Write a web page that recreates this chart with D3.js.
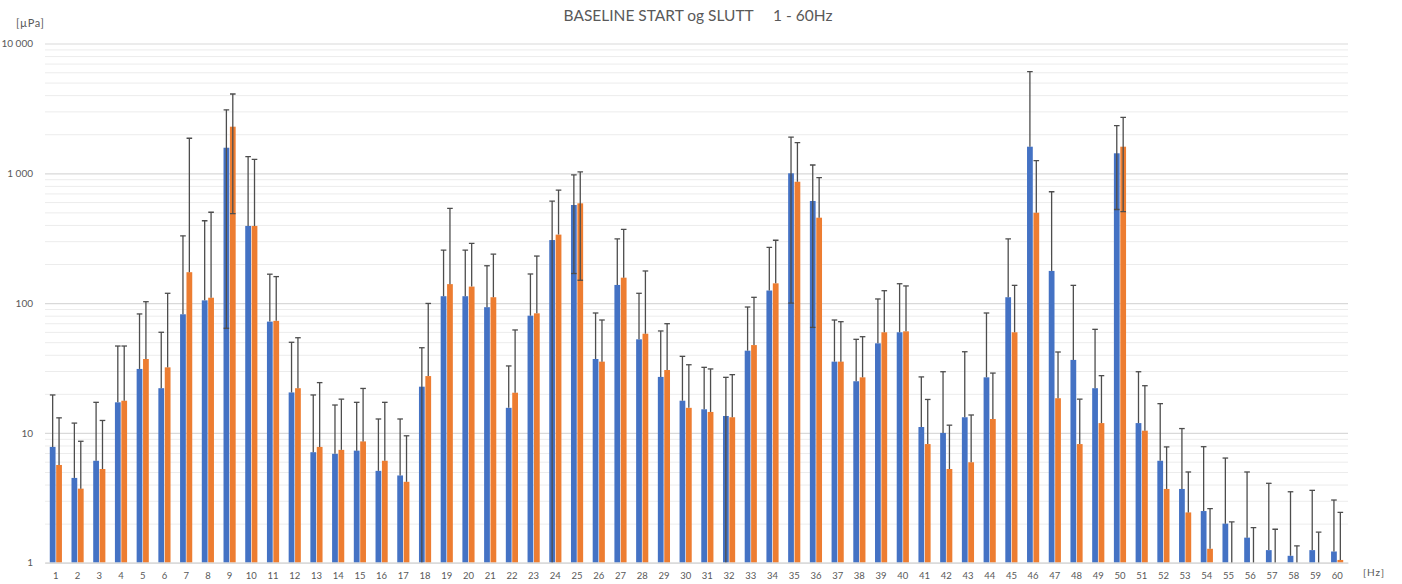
<!DOCTYPE html>
<html>
<head>
<meta charset="utf-8">
<script src="https://cdn.jsdelivr.net/npm/d3@7"></script>
<style>
  body { margin: 0; background: #fff; }
  text { font-family: Lato, "Open Sans", sans-serif; fill: #595959; }
</style>
</head>
<body>
<svg id="chart"></svg>
<script>
var width = 1402;
var height = 584;

// categories, Hz
var freqs = d3.range(1, 61);

// series: START (blue) and SLUTT (orange), mean and error (+/-)
var startMean = [7.8, 4.5, 6.1, 17.2, 31.1, 22.1, 82, 105, 1574, 393,
                 72, 20.5, 7.1, 6.9, 7.3, 5.1, 4.7, 22.7, 113, 113,
                 93, 15.6, 80, 306, 570, 37.1, 138, 52.6, 27, 17.7,
                 15.2, 13.5, 43, 125, 1000, 612, 35.4, 25, 49, 59.6,
                 11.1, 10, 13.2, 26.8, 111, 1603, 177, 36.5, 22.1, 1426,
                 11.9, 6.1, 3.7, 2.5, 2.0, 1.56, 1.25, 1.13, 1.25, 1.22];
var startErr = [11.8, 7.4, 11.1, 29.5, 51.4, 37.5, 248, 326, 1510, 950,
                95, 29.4, 12.5, 9.5, 9.9, 7.7, 8.1, 22.6, 143, 143,
                101, 17.2, 87.6, 305.5, 401, 46.8, 174, 66.4, 34, 21.2,
                16.8, 13.3, 50.3, 143.5, 900, 547, 38.7, 27.6, 58.6, 81.4,
                15.9, 19.6, 29, 57.1, 201, 4464, 544, 100.5, 40.7, 900,
                17.7, 10.7, 7.1, 5.33, 4.4, 3.44, 2.84, 2.39, 2.36, 1.82];
var sluttMean = [5.66, 3.72, 5.27, 17.7, 37.1, 32, 173, 110, 2286, 393,
                 73, 22.1, 7.8, 7.4, 8.6, 6.1, 4.2, 27.4, 140, 134,
                 111, 20.4, 83.4, 337, 587, 35.4, 157, 58.1, 30.5, 15.6,
                 14.5, 13.2, 47.5, 142, 861, 455, 35.4, 26.8, 59.6, 60.6,
                 8.2, 5.27, 5.94, 12.8, 59.6, 497, 18.5, 8.2, 11.9, 1603,
                 10.4, 3.7, 2.44, 1.28, 0.9, 0.8, 0.8, 0.7, 0.8, 1.05];
var sluttErr = [7.4, 4.9, 7.2, 29, 65.4, 87, 1689, 391, 1797, 889,
                87, 32, 16.6, 10.8, 13.4, 11.1, 5.3, 72, 397, 155,
                127, 41.7, 147, 406, 437, 38.7, 213, 118.7, 38.9, 17.9,
                16.6, 14.9, 63.3, 163, 865, 470, 36.5, 28.3, 65, 75,
                9.9, 6.2, 7.8, 16.1, 77.4, 753, 23.5, 10, 15.7, 1097,
                12.7, 4.1, 2.56, 1.33, 1.16, 1.06, 1.01, 0.65, 0.92, 1.39];

var yTicks = [1, 10, 100, 1000, 10000];
var yTickLabels = ["1", "10", "100", "1 000", "10 000"];

var seriesNames = ["START", "SLUTT"];
var colors = ["#4472C4", "#ED7D31"];

//plot area edges in px
var plotLeft = 45, plotRight = 1348, plotTop = 43.5, plotBottom = 562.7;

var svg = d3.select("#chart")
  .attr("width", width)
  .attr("height", height);

var x = d3.scaleBand()
  .domain(freqs)
  .range([plotLeft, plotRight])
  .paddingInner(0.44)
  .paddingOuter(0.22);

var x1 = d3.scaleBand()
  .domain(seriesNames)
  .range([0, x.bandwidth()])
  .paddingInner(0.1);

var y = d3.scaleLog()
  .domain([1, 10000])
  .range([plotBottom, plotTop]);

//gridlines, minor first then major
var minor = [];
yTicks.slice(0, 4).forEach(function(d) {
  for (var k = 2; k < 10; k++) minor.push(d * k);
});

svg.append("g")
  .attr("transform", "translate(" + plotLeft + ",0)")
  .call(d3.axisLeft(y).tickValues(minor).tickSize(-(plotRight - plotLeft)).tickFormat(""))
  .call(function(g) {
    g.select(".domain").remove();
    g.selectAll("line").attr("stroke", "#ececec").attr("stroke-width", 1);
  });

svg.append("g")
  .attr("transform", "translate(" + plotLeft + ",0)")
  .call(d3.axisLeft(y).tickValues(yTicks).tickSize(-(plotRight - plotLeft))
        .tickFormat(function(d, i) { return yTickLabels[i]; }))
  .call(function(g) {
    g.select(".domain").remove();
    g.selectAll("line").attr("stroke", "#d9d9d9").attr("stroke-width", 1.2);
    g.selectAll("text")
      .attr("x", -12)
      .attr("font-size", "10px")
      .style("font-family", "Lato, sans-serif")
      .attr("fill", "#595959");
  });

//bars
var data = [
  {name: "START", mean: startMean, err: startErr, color: colors[0]},
  {name: "SLUTT", mean: sluttMean, err: sluttErr, color: colors[1]}
];

svg.append("clipPath").attr("id", "plot")
  .append("rect")
  .attr("x", plotLeft).attr("y", plotTop)
  .attr("width", plotRight - plotLeft).attr("height", plotBottom - plotTop);

var plot = svg.append("g").attr("clip-path", "url(#plot)");

data.forEach(function(s) {
  freqs.forEach(function(f, i) {
    var v = s.mean[i];
    if (v > 1) {
      plot.append("rect")
        .attr("x", x(f) + x1(s.name))
        .attr("y", y(v))
        .attr("width", x1.bandwidth())
        .attr("height", y(1) - y(v))
        .attr("fill", s.color);
    }
  });
});

//error bars
var errColor = "#4d4d4d";
data.forEach(function(s) {
  freqs.forEach(function(f, i) {
    var v = s.mean[i];
    var e = s.err[i];
    var cx = x(f) + x1(s.name) + x1.bandwidth() / 2;
    var hi = v + e;
    var lo = v - e;
    var y0 = lo > 0 ? y(Math.max(lo, 0.5)) : y(Math.max(v, 0.5));
    plot.append("line")
      .attr("x1", cx).attr("x2", cx)
      .attr("y1", y0).attr("y2", y(hi))
      .attr("stroke", errColor)
      .attr("stroke-width", 1.3);
    plot.append("line")
      .attr("x1", cx - 2.8).attr("x2", cx + 2.8)
      .attr("y1", y(hi)).attr("y2", y(hi))
      .attr("stroke", errColor)
      .attr("stroke-width", 1.3);
    if (lo >= 1) {
      plot.append("line")
        .attr("x1", cx - 2.8).attr("x2", cx + 2.8)
        .attr("y1", y(lo)).attr("y2", y(lo))
        .attr("stroke", errColor)
        .attr("stroke-width", 1.3);
    }
  });
});

//x axis
svg.append("g")
  .attr("transform", "translate(0," + plotBottom + ")")
  .call(d3.axisBottom(x).tickSize(0).tickPadding(10))
  .call(function(g) {
    g.select(".domain").attr("stroke", "#d9d9d9").attr("stroke-width", 1.2);
    g.selectAll("text")
      .attr("font-size", "9.5px")
      .style("font-family", "Lato, sans-serif")
      .attr("fill", "#595959");
  });

//titles
svg.append("text")
  .text("BASELINE START og SLUTT     1 - 60Hz")
  .style("white-space", "pre")
  .attr("x", 698)
  .attr("y", 21)
  .attr("text-anchor", "middle")
  .attr("font-size", "15.5px");

svg.append("text")
  .text("[µPa]")
  .attr("x", 16)
  .attr("y", 27)
  .attr("font-size", "11px")
  .attr("letter-spacing", "0.6px");

svg.append("text")
  .text("[Hz]")
  .attr("x", 1363)
  .attr("y", 576)
  .attr("font-size", "10px")
  .attr("letter-spacing", "1px");
</script>
</body>
</html>
